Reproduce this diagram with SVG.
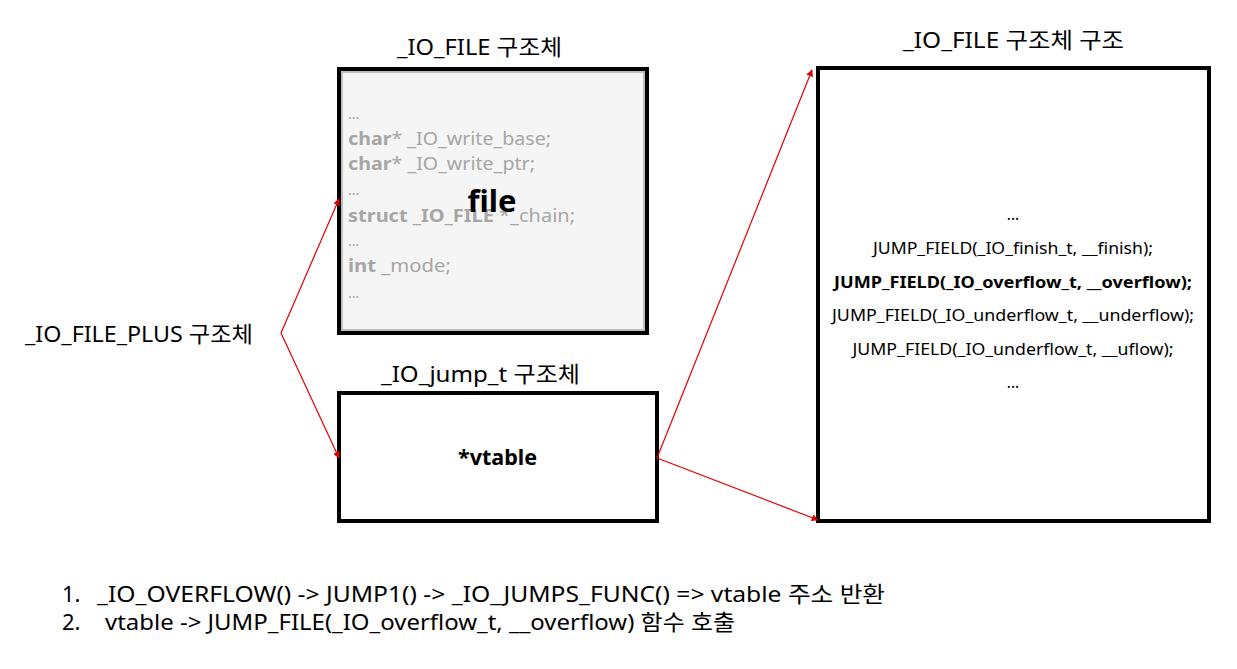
<svg xmlns="http://www.w3.org/2000/svg" width="1237" height="669" viewBox="0 0 1237 669">
<defs>
<style>
text{font-family:"Noto Sans","Noto Sans CJK KR",sans-serif;}
.box{fill:#fff;stroke:#000;stroke-width:4;}
.t{font-size:22px;fill:#000;}
.g{font-size:17.5px;fill:#a6a6a6;}
.d{font-size:14px;fill:#a6a6a6;}
.gb{font-weight:bold;}
.j{font-size:15.5px;fill:#000;text-anchor:middle;}
.conn{stroke:#e00000;stroke-width:1.2;fill:none;marker-end:url(#ah);}
</style>
<marker id="ah" viewBox="0 0 10 10" refX="9" refY="5" markerWidth="7" markerHeight="7" orient="auto" markerUnits="userSpaceOnUse">
<path d="M0,0 L10,5 L0,10 z" fill="#e00000"/>
</marker>
</defs>
<rect width="1237" height="669" fill="#fff"/>
<g id="io-file">
<rect class="box" x="339" y="69" width="308" height="264"/>
<rect x="342" y="72" width="302" height="258" fill="#f5f5f5" stroke="#bdbdbd" stroke-width="2"/>
<text class="t" x="397" y="55" textLength="165" lengthAdjust="spacingAndGlyphs">_IO_FILE 구조체</text>
<text class="d" x="348" y="119">...</text>
<text class="g" x="348" y="145" textLength="203" lengthAdjust="spacingAndGlyphs"><tspan class="gb">char</tspan>* _IO_write_base;</text>
<text class="g" x="348" y="170" textLength="187" lengthAdjust="spacingAndGlyphs"><tspan class="gb">char</tspan>* _IO_write_ptr;</text>
<text class="d" x="348" y="195">...</text>
<text class="g" x="348" y="222" textLength="227" lengthAdjust="spacingAndGlyphs"><tspan class="gb">struct _IO_FILE</tspan> *_chain;</text>
<text class="d" x="348" y="246">...</text>
<text class="g" x="348" y="272" textLength="103" lengthAdjust="spacingAndGlyphs"><tspan class="gb">int</tspan> _mode;</text>
<text class="d" x="348" y="298">...</text>
<text x="492" y="212" font-size="31" font-weight="bold" fill="#000" text-anchor="middle">file</text>
</g>
<g id="io-jump">
<rect class="box" x="339" y="393" width="318" height="128"/>
<text class="t" x="381" y="382" textLength="199" lengthAdjust="spacingAndGlyphs">_IO_jump_t 구조체</text>
<text x="458" y="465" font-size="21" font-weight="bold" fill="#000" textLength="79" lengthAdjust="spacingAndGlyphs">*vtable</text>
</g>
<g id="io-file-struct">
<rect class="box" x="818" y="68" width="391" height="453"/>
<text class="t" x="903" y="48" textLength="221" lengthAdjust="spacingAndGlyphs">_IO_FILE 구조체 구조</text>
<text class="j" x="1013" y="220">...</text>
<text class="j" x="1013" y="254" textLength="280" lengthAdjust="spacingAndGlyphs">JUMP_FIELD(_IO_finish_t, __finish);</text>
<text class="j" x="1013" y="288" font-weight="bold" textLength="358" lengthAdjust="spacingAndGlyphs">JUMP_FIELD(_IO_overflow_t, __overflow);</text>
<text class="j" x="1013" y="321" textLength="362" lengthAdjust="spacingAndGlyphs">JUMP_FIELD(_IO_underflow_t, __underflow);</text>
<text class="j" x="1013" y="355" textLength="321" lengthAdjust="spacingAndGlyphs">JUMP_FIELD(_IO_underflow_t, __uflow);</text>
<text class="j" x="1013" y="388">...</text>
</g>
<g id="io-file-plus">
<text class="t" x="25" y="342" textLength="228" lengthAdjust="spacingAndGlyphs">_IO_FILE_PLUS 구조체</text>
</g>
<g id="connectors">
<path class="conn" d="M281,333 L339,199"/>
<path class="conn" d="M281,333 L339,458"/>
<path class="conn" d="M657,458 L812,70"/>
<path class="conn" d="M657,458 L818,520"/>
</g>
<g id="notes">
<text class="t" x="62" y="602">1.</text>
<text class="t" x="97" y="602" textLength="788" lengthAdjust="spacingAndGlyphs">_IO_OVERFLOW() -&gt; JUMP1() -&gt; _IO_JUMPS_FUNC() =&gt; vtable 주소 반환</text>
<text class="t" x="62" y="630">2.</text>
<text class="t" x="105" y="630" textLength="630" lengthAdjust="spacingAndGlyphs">vtable -&gt; JUMP_FILE(_IO_overflow_t, __overflow) 함수 호출</text>
</g>
</svg>
